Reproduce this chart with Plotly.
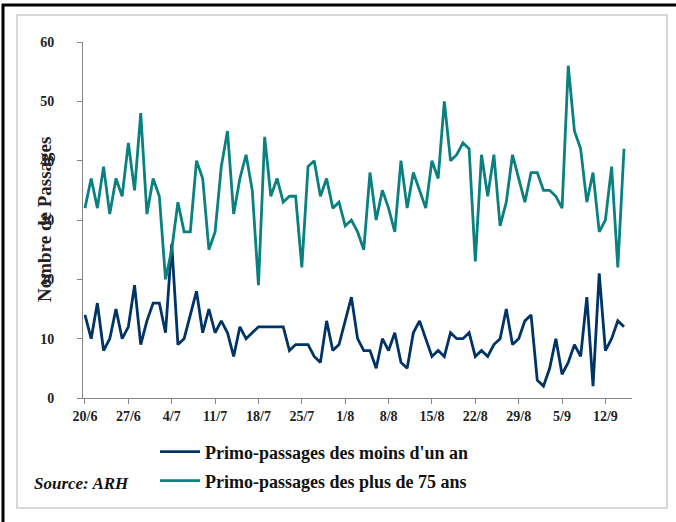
import pandas as pd
import plotly.graph_objects as go

# ---- data ----
start_date = "2003-06-20"

moins_un_an = [14, 10, 16, 8, 10, 15, 10, 12, 19, 9, 13, 16, 16, 11, 26, 9,
               10, 14, 18, 11, 15, 11, 13, 11, 7, 12, 10, 11, 12, 12, 12, 12,
               12, 8, 9, 9, 9, 7, 6, 13, 8, 9, 13, 17, 10, 8, 8, 5, 10, 8, 11,
               6, 5, 11, 13, 10, 7, 8, 7, 11, 10, 10, 11, 7, 8, 7, 9, 10, 15,
               9, 10, 13, 14, 3, 2, 5, 10, 4, 6, 9, 7, 17, 2, 21, 8, 10, 13, 12]

plus_75_ans = [32, 37, 32, 39, 31, 37, 34, 43, 35, 48, 31, 37, 34, 20, 25, 33,
               28, 28, 40, 37, 25, 28, 39, 45, 31, 37, 41, 35, 19, 44, 34, 37,
               33, 34, 34, 22, 39, 40, 34, 37, 32, 33, 29, 30, 28, 25, 38, 30,
               35, 32, 28, 40, 32, 38, 35, 32, 40, 37, 50, 40, 41, 43, 42, 23,
               41, 34, 41, 29, 33, 41, 37, 33, 38, 38, 35, 35, 34, 32, 56, 45,
               42, 33, 38, 28, 30, 39, 22, 42]

tick_labels = ["20/6", "27/6", "4/7", "11/7", "18/7", "25/7", "1/8", "8/8",
               "15/8", "22/8", "29/8", "5/9", "12/9"]

series_names = ["Primo-passages des moins d'un an",
                "Primo-passages des plus de 75 ans"]
y_ticks = [0, 10, 20, 30, 40, 50, 60]

dates = pd.date_range(start_date, periods=len(moins_un_an), freq="D")
tick_dates = pd.date_range(start_date, periods=len(tick_labels), freq="7D")

# ---- layout geometry (pixels) ----
W, H = 676, 522
L, R, T, B = 83, 632, 42, 398
pw, ph = R - L, B - T


def px_x(p):
    return (p - L) / pw


def px_y(p):
    return (B - p) / ph


day = pd.Timedelta(days=1)
x_start = dates[0] - 0.32 * day
x_end = dates[-1] + 1.29 * day

serif = "Liberation Serif, Times New Roman, serif"
BLUE = "#003366"
TEAL = "#0a8080"
AXIS = "#868686"

fig = go.Figure()
fig.add_trace(go.Scatter(x=dates, y=moins_un_an, mode="lines",
                         name=series_names[0], legend="legend",
                         line=dict(color=BLUE, width=2.8)))
fig.add_trace(go.Scatter(x=dates, y=plus_75_ans, mode="lines",
                         name=series_names[1], legend="legend2",
                         line=dict(color=TEAL, width=2.8)))

legend_font = dict(family=serif, size=18, color="#111111", weight="bold")
leg_common = dict(xanchor="left", yanchor="middle", bgcolor="rgba(0,0,0,0)",
                  borderwidth=0, font=legend_font, itemwidth=40,
                  itemclick=False, itemdoubleclick=False)

tick_font = dict(family=serif, size=14, color="#222222", weight="bold")

fig.update_layout(
    width=W, height=H,
    margin=dict(l=L, r=W - R, t=T, b=H - B, autoexpand=False),
    paper_bgcolor="white", plot_bgcolor="white",
    showlegend=True,
    legend=dict(x=px_x(155), y=px_y(452), **leg_common),
    legend2=dict(x=px_x(155), y=px_y(481), **leg_common),
    xaxis=dict(
        range=[x_start, x_end], tickmode="array",
        tickvals=tick_dates, ticktext=tick_labels,
        showline=True, linecolor=AXIS, linewidth=1,
        ticks="outside", ticklen=5, tickcolor=AXIS,
        showgrid=False, zeroline=False, tickfont=tick_font,
    ),
    yaxis=dict(
        range=[0, 60], tickmode="array", tickvals=y_ticks,
        showline=True, linecolor=AXIS, linewidth=1,
        ticks="outside", ticklen=5, tickcolor=AXIS,
        showgrid=False, zeroline=False, ticklabelstandoff=20,
        tickfont=tick_font,
    ),
    annotations=[
        dict(text="Nombre de Passages", textangle=-90,
             x=px_x(44), y=0.5, xref="paper", yref="paper",
             xanchor="center", yanchor="middle", showarrow=False,
             font=dict(family=serif, size=19, color="#222222", weight="bold")),
        dict(text="Source: ARH", x=px_x(32), y=px_y(483),
             xref="paper", yref="paper", xanchor="left", yanchor="middle",
             showarrow=False,
             font=dict(family=serif, size=17, color="#111111",
                       weight="bold", style="italic")),
    ],
    shapes=[
        # light grey inner frame
        dict(type="rect", xref="paper", yref="paper",
             x0=px_x(17), x1=px_x(667), y0=px_y(508), y1=px_y(15),
             line=dict(color="#cccccc", width=1.5), layer="below"),
        # black outer frame (top and left)
        dict(type="line", xref="paper", yref="paper",
             x0=px_x(2), x1=px_x(676), y0=px_y(5), y1=px_y(5),
             line=dict(color="black", width=3)),
        dict(type="line", xref="paper", yref="paper",
             x0=px_x(3), x1=px_x(3), y0=px_y(4), y1=px_y(522),
             line=dict(color="black", width=3)),
    ],
)

fig.write_html(
    "out.html",
    config={"displayModeBar": False},
    post_script="document.body.style.margin='0';"
                "document.body.style.overflow='hidden';",
)
